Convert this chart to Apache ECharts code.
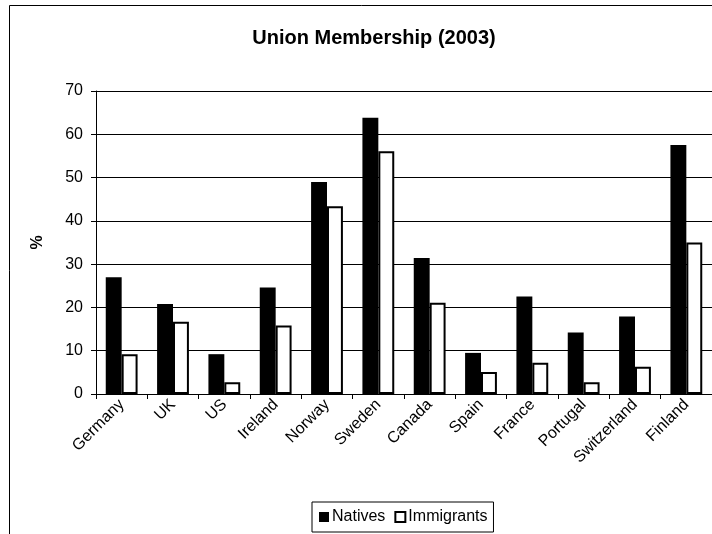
<!DOCTYPE html>
<html>
<head>
<meta charset="utf-8">
<script src="https://cdn.jsdelivr.net/npm/echarts@6/dist/echarts.min.js"></script>
<style>
html,body{margin:0;padding:0;background:#fff;}
#chart{width:712px;height:534px;}
</style>
</head>
<body>
<div id="chart"></div>
<script>
var categories = ['Germany','UK','US','Ireland','Norway','Sweden','Canada','Spain','France','Portugal','Switzerland','Finland'];
var natives = [27.0, 20.8, 9.2, 24.6, 49.0, 63.8, 31.4, 9.5, 22.5, 14.2, 17.9, 57.5];
var immigrants = [9.2, 16.7, 2.7, 15.8, 43.4, 56.1, 21.1, 5.1, 7.2, 2.7, 6.3, 35.0];
var yTicks = [0, 10, 20, 30, 40, 50, 60, 70];

var font = 'Liberation Sans, Arial, sans-serif';
var chart = echarts.init(document.getElementById('chart'), null, {renderer: 'canvas'});
chart.setOption({
  animation: false,
  backgroundColor: '#fff',
  textStyle: {fontFamily: font},
  graphic: [{
    type: 'rect',
    z: -10,
    silent: true,
    shape: {x: 9.5, y: 5.5, width: 760, height: 600},
    style: {fill: 'none', stroke: '#000', lineWidth: 1}
  }],
  title: {
    text: 'Union Membership (2003)',
    left: 369,
    textAlign: 'center',
    top: 23,
    textStyle: {fontFamily: font, fontSize: 20, fontWeight: 'bold', color: '#000'}
  },
  legend: {
    data: ['Natives', 'Immigrants'],
    left: 312,
    top: 502,
    itemWidth: 10,
    itemHeight: 10,
    itemGap: 9,
    padding: [7, 6, 7, 7],
    borderColor: '#000',
    borderWidth: 1,
    icon: 'rect',
    textStyle: {fontFamily: font, fontSize: 16, color: '#000', padding: [0, 0, 0, -2]}
  },
  grid: {left: 96, right: -3, top: 91, bottom: 140, containLabel: false},
  xAxis: {
    type: 'category',
    data: categories,
    boundaryGap: true,
    axisLine: {lineStyle: {color: '#000', width: 1}},
    axisTick: {show: true, alignWithLabel: false, length: 5, lineStyle: {color: '#000'}},
    axisLabel: {rotate: 45, fontFamily: font, fontSize: 16, color: '#000', margin: 8, interval: 0},
    splitLine: {show: false}
  },
  yAxis: {
    type: 'value',
    min: 0, max: 70, interval: 10,
    name: '%',
    nameLocation: 'middle',
    nameGap: 50,
    nameRotate: 90,
    nameTextStyle: {fontFamily: font, fontSize: 16, fontWeight: 'bold', color: '#000'},
    axisLine: {show: true, lineStyle: {color: '#000', width: 1}},
    axisTick: {show: true, length: 5, lineStyle: {color: '#000'}},
    axisLabel: {fontFamily: font, fontSize: 16, color: '#000', margin: 13,
      formatter: function (v) { return yTicks.indexOf(v) >= 0 ? String(v) : ''; }},
    splitLine: {show: true, lineStyle: {color: '#000', width: 1}}
  },
  series: [{
    name: 'Natives',
    type: 'bar',
    data: natives,
    barGap: '0%',
    barCategoryGap: '38%',
    itemStyle: {color: '#000', borderColor: '#000', borderWidth: 0}
  }, {
    name: 'Immigrants',
    type: 'bar',
    data: immigrants,
    barGap: '0%',
    barCategoryGap: '38%',
    itemStyle: {color: '#fff', borderColor: '#000', borderWidth: 2}
  }]
});
</script>
</body>
</html>
